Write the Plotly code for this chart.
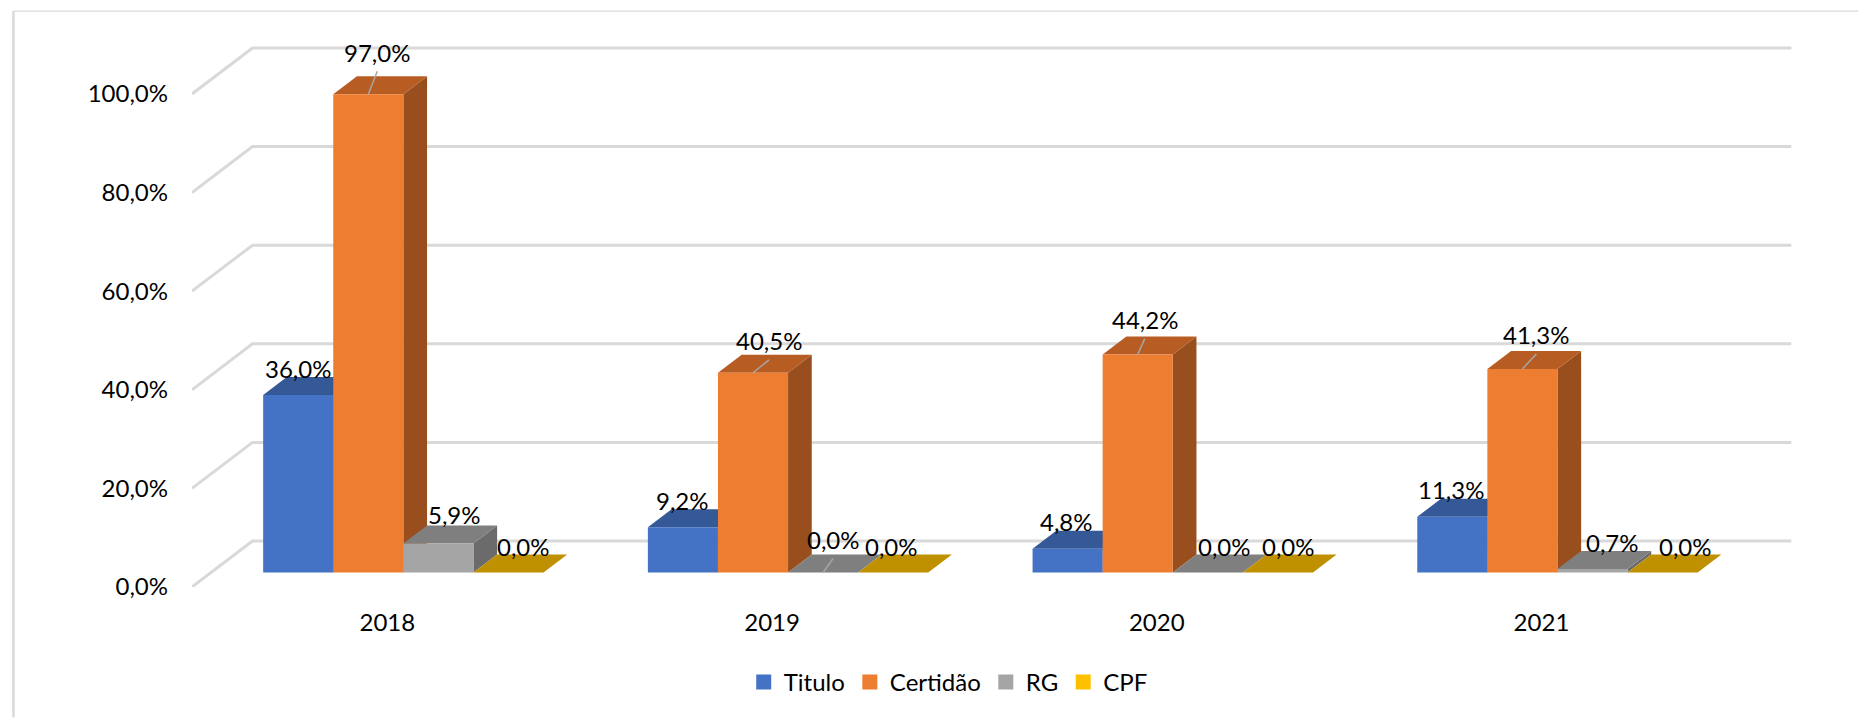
import plotly.graph_objects as go

years = ["2018", "2019", "2020", "2021"]
series_names = ["Titulo", "Certidão", "RG", "CPF"]
titulo = [36.0, 9.2, 4.8, 11.3]
certidao = [97.0, 40.5, 44.2, 41.3]
rg = [5.9, 0.0, 0.0, 0.7]
cpf = [0.0, 0.0, 0.0, 0.0]
y_ticks = [0, 20, 40, 60, 80, 100]

all_values = [titulo, certidao, rg, cpf]

# front, top, side shades of each series
front_colors = ["#4472C4", "#ED7D31", "#A5A5A5", "#FFC000"]
top_colors = ["#355896", "#B75D24", "#7F7F7F", "#BF9000"]
side_colors = ["#2F5090", "#984E1D", "#6B6B6B", "#A67D00"]

GRID = "#D9D9D9"
LEADER = "#A6A6A6"
FONT = "Lato"
FONT_SIZE = 24

# the page body has an 8px margin, so the figure starts at (8, 8)
PAGE_MARGIN = 8
WIDTH = 1866 - PAGE_MARGIN
HEIGHT = 718 - PAGE_MARGIN

# px per axis unit, the 3d look is faked with offsets in these
PX_X = 384.8
PX_Y = 4.935
LEFT = 191.6 - PAGE_MARGIN
BOTTOM = 587.5 - PAGE_MARGIN
PLOT_W = 1800 - 191.6
PLOT_H = 115 * PX_Y
X_MAX = PLOT_W / PX_X - 0.5
Y_MAX = 115

PLANE_DX = 19 / PX_X
PLANE_DY = 14.5 / PX_Y
WALL_DX = 60.5 / PX_X
WALL_DY = 46 / PX_Y
DEPTH_DX = 23.7 / PX_X
DEPTH_DY = 18 / PX_Y
GAP = 0.2712
BAR_W = (1 - GAP) / 4
TICK_NUDGE = 3 / PX_X

# label placement relative to the bar top centre, px
label_dx = [
    [0, 9, 16, 15],
    [0, 16, 10, -2],
    [-1, 7, 17, 11],
    [-1, 14, 20, 23],
]
label_dy = [
    [27, 42, 29, 26],
    [27, 32, 33, 26],
    [27, 35, 26, 26],
    [27, 34, 27, 26],
]
leaders = {(0, 1), (1, 1), (1, 2), (2, 1), (3, 1)}


def pct(v):
    return f"{v:.1f}".replace(".", ",") + "%"


def paper_x(px):
    return (px - PAGE_MARGIN - LEFT) / PLOT_W


def paper_y(px):
    return (BOTTOM - (px - PAGE_MARGIN)) / PLOT_H


def poly(fig, xs, ys, color):
    fig.add_trace(go.Scatter(
        x=xs + xs[:1], y=ys + ys[:1], mode="lines", fill="toself", fillcolor=color,
        line=dict(width=0, color=color), hoverinfo="skip", showlegend=False,
    ))


fig = go.Figure()

# walls
for t in y_ticks:
    fig.add_trace(go.Scatter(
        x=[-0.5, -0.5 + WALL_DX, 3.5 + WALL_DX], y=[t, t + WALL_DY, t + WALL_DY], mode="lines",
        line=dict(color=GRID, width=3), hoverinfo="skip", showlegend=False,
    ))

# bars, left to right so later ones cover earlier sides
for i, year in enumerate(years):
    for j, values in enumerate(all_values):
        v = values[i]
        x0 = i - 0.5 + PLANE_DX + GAP / 2 + j * BAR_W
        x1 = x0 + BAR_W
        y0 = PLANE_DY
        y1 = PLANE_DY + v
        poly(fig, [x1, x1 + DEPTH_DX, x1 + DEPTH_DX, x1], [y0, y0 + DEPTH_DY, y1 + DEPTH_DY, y1], side_colors[j])
        poly(fig, [x0, x1, x1 + DEPTH_DX, x0 + DEPTH_DX], [y1, y1, y1 + DEPTH_DY, y1 + DEPTH_DY], top_colors[j])
        if v > 0:
            poly(fig, [x0, x1, x1, x0], [y0, y0, y1, y1], front_colors[j])

annotations = []
for i, year in enumerate(years):
    for j, values in enumerate(all_values):
        v = values[i]
        xc = i - 0.5 + PLANE_DX + GAP / 2 + (j + 0.5) * BAR_W
        yt = PLANE_DY + v
        dx = label_dx[i][j]
        dy = label_dy[i][j]
        if (i, j) in leaders:
            fig.add_trace(go.Scatter(
                x=[xc, xc + dx / PX_X], y=[yt, yt + (dy - 19) / PX_Y], mode="lines",
                line=dict(color=LEADER, width=1.5), hoverinfo="skip", showlegend=False,
            ))
        annotations.append(dict(
            x=xc, y=yt, xshift=dx, yshift=dy, text=pct(v), showarrow=False,
            xanchor="center", yanchor="middle", font=dict(family=FONT, size=FONT_SIZE, color="#000000"),
        ))

for name, color in zip(series_names, front_colors):
    fig.add_trace(go.Scatter(
        x=[None], y=[None], mode="markers", name=name,
        marker=dict(symbol="square", size=15, color=color),
    ))

fig.update_layout(
    width=WIDTH,
    height=HEIGHT,
    autosize=False,
    paper_bgcolor="white",
    plot_bgcolor="white",
    margin=dict(l=LEFT, r=WIDTH - LEFT - PLOT_W, t=BOTTOM - PLOT_H, b=HEIGHT - BOTTOM, autoexpand=False),
    font=dict(family=FONT, size=FONT_SIZE, color="#000000"),
    annotations=annotations,
    legend=dict(
        orientation="h", x=paper_x(948), xref="paper", xanchor="center", y=paper_y(683), yanchor="middle",
        font=dict(family=FONT, size=FONT_SIZE), bgcolor="rgba(0,0,0,0)",
    ),
    xaxis=dict(
        range=[-0.5, X_MAX], tickvals=[i + TICK_NUDGE for i in range(len(years))], ticktext=years,
        showgrid=False, zeroline=False, showline=False, ticks="", ticklabelstandoff=19,
    ),
    yaxis=dict(
        range=[0, Y_MAX], tickvals=y_ticks, ticktext=[pct(t) for t in y_ticks],
        showgrid=False, zeroline=False, showline=False, ticks="", ticklabelstandoff=23,
    ),
    shapes=[
        dict(type="line", xref="paper", yref="paper", x0=paper_x(13), x1=paper_x(13),
             y0=paper_y(11), y1=paper_y(718), line=dict(color=GRID, width=2.5)),
        dict(type="line", xref="paper", yref="paper", x0=paper_x(13), x1=paper_x(1866),
             y0=paper_y(11), y1=paper_y(11), line=dict(color=GRID, width=1.2)),
    ],
)

fig.write_html("out.html")
